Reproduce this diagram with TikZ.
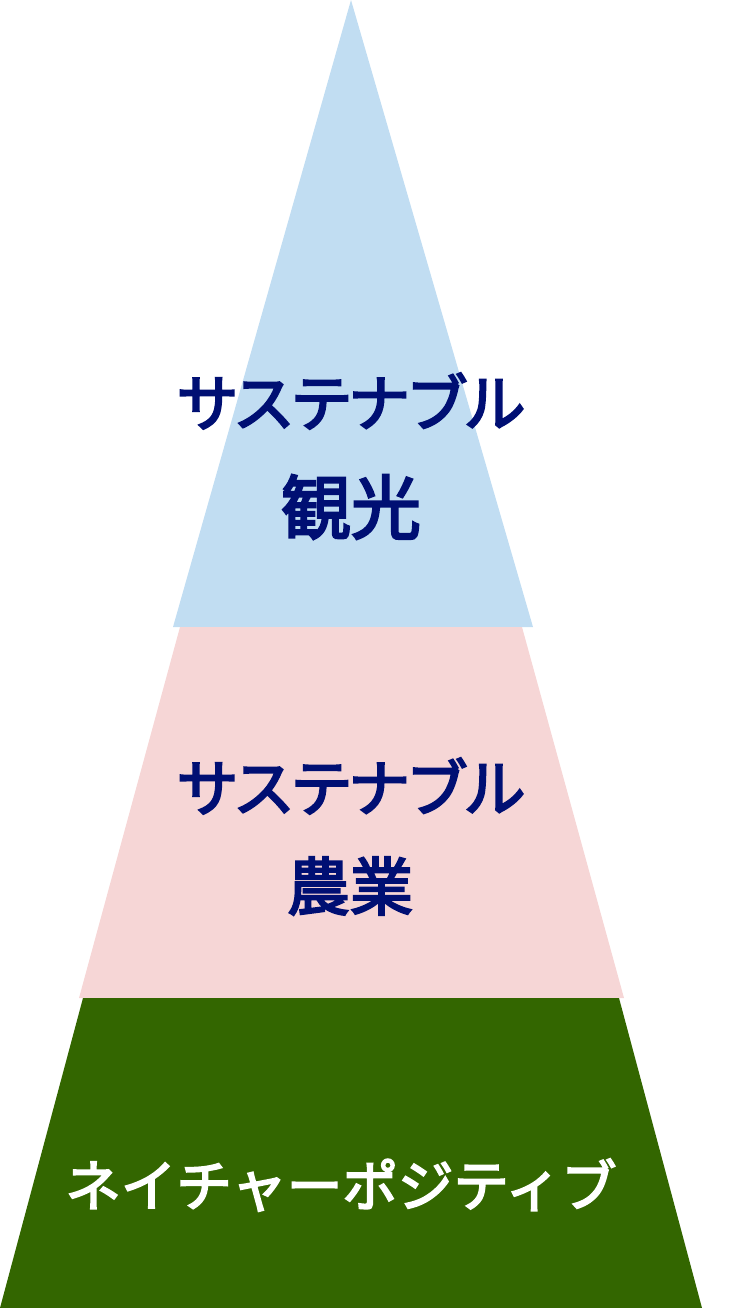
\documentclass[tikz,border=0pt]{standalone}
\usepackage{fontspec}
\usepackage{tikz}
\usepackage{xcolor}
\newfontfamily\cjk{Noto Sans CJK JP}[FakeBold=3.3]
\newfontfamily\cjktight{Noto Sans CJK JP}[FakeBold=3.3, LetterSpace=-7]
\definecolor{sky-fill}{RGB}{193,221,242}
\definecolor{rose-fill}{RGB}{246,214,214}
\definecolor{leaf-fill}{RGB}{51,102,0}
\definecolor{navy-text}{RGB}{0,15,115}
\tikzset{
    layer-label/.style = {text=navy-text, font=\cjktight\fontsize{62}{62}\selectfont, inner sep=0pt},
    layer-sub/.style = {layer-label, font=\cjk\fontsize{70}{70}\selectfont},
    base-label/.style = {text=white, font=\cjk\fontsize{55.5}{55.5}\selectfont, inner sep=0pt},
}

\begin{document}
\begin{tikzpicture}[x=1pt, y=-1pt]
\useasboundingbox (0,0) rectangle (736,1308);
% three layers of the pyramid
\fill[sky-fill] (351,0) -- (533,627) -- (173,627) -- cycle;
\fill[rose-fill] (180,627) -- (522,627) -- (624,998) -- (79,998) -- cycle;
\fill[leaf-fill] (83,998) -- (619,998) -- (702,1308) -- (0,1308) -- cycle;
% labels
\node[layer-label] (tourism-top) at (351,401) {サステナブル};
\node[layer-sub] (tourism) at (351,507) {観光};
\node[layer-label] (farming-top) at (351,786) {サステナブル};
\node[layer-sub, font=\cjk\fontsize{63}{63}\selectfont] (farming) at (350,886) {農業};
\node[base-label] (nature) at (341,1185) {ネイチャーポジティブ};
\end{tikzpicture}
\end{document}
